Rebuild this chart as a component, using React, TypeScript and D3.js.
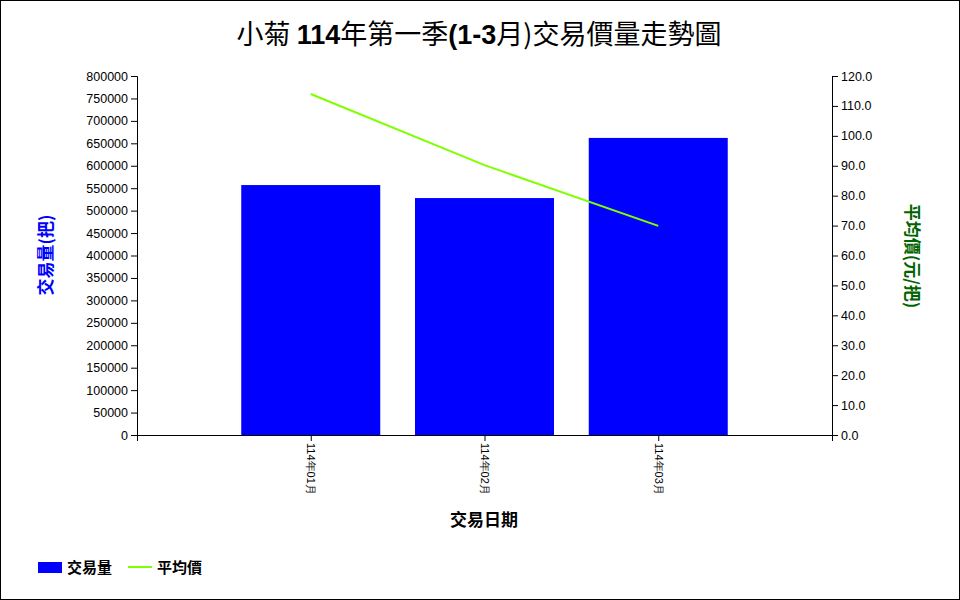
import React, { useEffect, useRef } from "react";
import * as d3 from "d3";

const months = ["114年01月", "114年02月", "114年03月"];
const volumes = [557000, 528000, 662000];
const prices = [114.0, 90.2, 69.9];
const volTicks = d3.range(0, 800001, 50000);
const priceTicks = d3.range(0, 121, 10);

const W = 960, H = 600;
const M = { left: 137, right: 832, top: 76, bottom: 435 };

export default function App() {
  const ref = useRef<SVGSVGElement>(null);
  useEffect(() => {
    const svg = d3.select(ref.current);
    svg.selectAll("*").remove();
    svg.append("rect").attr("x", 0.5).attr("y", 0.5).attr("width", W - 1).attr("height", H - 1)
      .attr("fill", "#fff").attr("stroke", "#000");

    const x = d3.scalePoint<string>().domain(months).range([M.left, M.right]).padding(1);
    const yL = d3.scaleLinear().domain([0, 800000]).range([M.bottom, M.top]);
    const yR = d3.scaleLinear().domain([0, 120]).range([M.bottom, M.top]);
    const bw = x.step() * 0.8;
    const font = "'Liberation Sans', Arial, sans-serif";

    svg.append("g").selectAll("rect").data(months).join("rect")
      .attr("x", d => x(d)! - bw / 2).attr("width", bw)
      .attr("y", (d, i) => yL(volumes[i])).attr("height", (d, i) => M.bottom - yL(volumes[i]))
      .attr("fill", "#0000ff");

    const line = d3.line<number>().x((d, i) => x(months[i])!).y(d => yR(d));
    svg.append("path").datum(prices).attr("d", line).attr("fill", "none")
      .attr("stroke", "#7fff00").attr("stroke-width", 2);

    const gl = svg.append("g").attr("transform", `translate(${M.left},0)`)
      .call(d3.axisLeft(yL).tickValues(volTicks).tickFormat(d3.format("d")));
    const gr = svg.append("g").attr("transform", `translate(${M.right},0)`)
      .call(d3.axisRight(yR).tickValues(priceTicks).tickFormat(d3.format(".1f")));
    const gb = svg.append("g").attr("transform", `translate(0,${M.bottom})`)
      .call(d3.axisBottom(x));
    [gl, gr, gb].forEach(g => {
      g.selectAll("text").attr("font-family", font).attr("font-size", 12.5).attr("fill", "#000");
      g.selectAll("path,line").attr("stroke", "#000");
    });
    gb.selectAll("text").attr("font-size", 11)
      .attr("transform", "rotate(90)").attr("text-anchor", "start")
      .attr("x", 8).attr("y", 0).attr("dy", "0.35em");

    const cjk = "'Noto Sans CJK TC', sans-serif";
    const title = svg.append("text").attr("x", 479).attr("y", 44).attr("text-anchor", "middle")
      .attr("font-family", cjk).attr("font-size", 27).attr("fill", "#000");
    title.append("tspan").text("小菊 ");
    title.append("tspan").attr("font-weight", "bold").attr("font-family", font).text("114");
    title.append("tspan").text("年第一季");
    title.append("tspan").attr("font-weight", "bold").attr("font-family", font).text("(1-3");
    title.append("tspan").text("月)交易價量走勢圖");

    svg.append("text").attr("transform", "translate(52,255) rotate(-90)").attr("text-anchor", "middle")
      .attr("font-family", cjk).attr("font-size", 17).attr("font-weight", "bold").attr("fill", "#0000ff").text("交易量(把)");
    svg.append("text").attr("transform", "translate(906,256) rotate(90)").attr("text-anchor", "middle")
      .attr("font-family", cjk).attr("font-size", 17).attr("font-weight", "bold").attr("fill", "#006400").text("平均價(元/把)");
    svg.append("text").attr("x", 484).attr("y", 526).attr("text-anchor", "middle")
      .attr("font-family", cjk).attr("font-size", 17).attr("font-weight", "bold").attr("fill", "#000").text("交易日期");

    const lg = svg.append("g");
    lg.append("rect").attr("x", 38).attr("y", 562).attr("width", 24).attr("height", 11).attr("fill", "#0000ff");
    lg.append("text").attr("x", 67).attr("y", 573).attr("font-family", cjk).attr("font-size", 15)
      .attr("font-weight", "bold").text("交易量");
    lg.append("line").attr("x1", 128).attr("x2", 152).attr("y1", 567).attr("y2", 567)
      .attr("stroke", "#7fff00").attr("stroke-width", 2);
    lg.append("text").attr("x", 157).attr("y", 573).attr("font-family", cjk).attr("font-size", 15)
      .attr("font-weight", "bold").text("平均價");
  }, []);
  return <svg ref={ref} width={W} height={H} style={{ position: "absolute", left: 0, top: 0 }} />;
}
